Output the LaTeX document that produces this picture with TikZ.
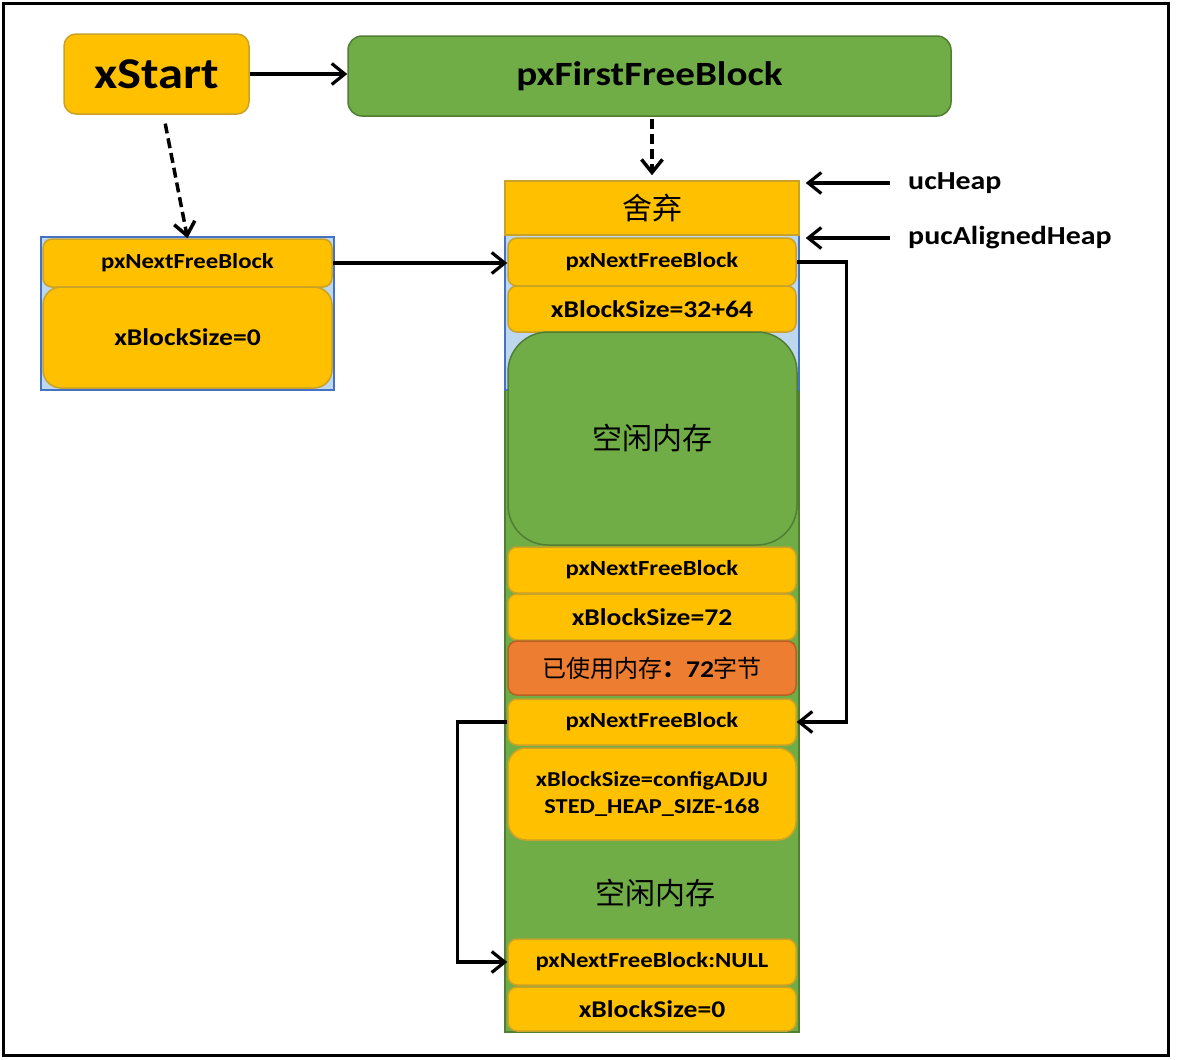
\documentclass[tikz,border=0pt]{standalone}
\usepackage{fontspec}
\setmainfont{Carlito}[FakeStretch=1.15]
\newfontfamily\cjk{Noto Sans CJK SC}
\usetikzlibrary{arrows.meta,calc}
\definecolor{gold}{HTML}{FFC000}
\definecolor{goldline}{HTML}{C9A227}
\definecolor{grn}{HTML}{70AD47}
\definecolor{grnline}{HTML}{507E32}
\definecolor{orng}{HTML}{ED7D31}
\definecolor{orngline}{HTML}{B85F24}
\definecolor{lblue}{HTML}{BDD7EE}
\definecolor{bline}{HTML}{4472C4}
\newcommand{\fs}[1]{\fontsize{#1}{#1}\selectfont}
\tikzset{
  cell/.style={draw=goldline, fill=gold, line width=1.5pt, rounded corners=9pt,
    minimum width=288pt, inner sep=0pt, align=center, font=\fs{21.5}\bfseries},
  szcell/.style={cell, font=\fs{24}\bfseries},
  arr/.style={line width=3.2pt, -{Straight Barb[length=13pt,width=21pt]}},
  dsh/.style={arr, line width=3.5pt, dash pattern=on 10pt off 5pt},
  lab/.style={anchor=west, inner sep=0pt, font=\fs{26}\bfseries},
  cjkfont/.style={font=\cjk\fs{30}},
}
\begin{document}
\begin{tikzpicture}[x=1pt,y=-1pt]
\useasboundingbox (0,0) rectangle (1178,1060);
\fill[white] (0,0) rectangle (1178,1060);
\draw[line width=3pt] (3,3) rectangle (1168,1055);

% top nodes
\node[draw=goldline, fill=gold, line width=1.5pt, rounded corners=12pt,
  minimum width=185pt, minimum height=80pt, inner sep=0pt,
  font=\fs{44}\bfseries] (xs) at (156.5,74) {xStart};
\node[draw=grnline, fill=grn, line width=1.5pt, rounded corners=14pt,
  minimum width=603pt, minimum height=80pt, inner sep=0pt,
  font=\fs{34}\bfseries] (pf) at (649.5,76) {pxFirstFreeBlock};

% left block
\draw[fill=lblue, draw=bline, line width=1.5pt] (41,237) rectangle (334,390);
\node[cell, minimum width=289pt, minimum height=48pt] (l1) at (187.5,263) {pxNextFreeBlock};
\node[szcell, minimum width=289pt, minimum height=101pt, rounded corners=18pt] (l2) at (187.5,337.5) {xBlockSize=0};

% right column backgrounds
\draw[fill=grn, draw=grnline, line width=1.5pt] (505,390) rectangle (799,1032);
\draw[fill=lblue, draw=bline, line width=1.5pt] (505,235) rectangle (799,390);
\node[draw=goldline, fill=gold, line width=1.5pt, minimum width=294pt, minimum height=54pt,
  inner sep=0pt, cjkfont] (qi) at (652,208) {舍弃};

\node[cell, minimum height=48pt] (r1) at (652,262) {pxNextFreeBlock};
\node[szcell, minimum height=46pt] (r2) at (652,309) {xBlockSize=32+64};
\node[draw=grnline, fill=grn, line width=1.5pt, rounded corners=40pt, minimum width=289pt,
  minimum height=213pt, inner sep=0pt, cjkfont] (r3) at (652.5,438.5) {空闲内存};
\node[cell, minimum height=46pt] (r4) at (652,570) {pxNextFreeBlock};
\node[szcell, minimum height=46pt] (r5) at (652,617) {xBlockSize=72};
\node[cell, fill=orng, draw=orngline, minimum height=54pt] (r6) at (652,668)
  {{\cjk\mdseries\fs{24}已使用内存}{\cjk\fs{24}：}{\fs{24}72}{\cjk\mdseries\fs{24}字节}};
\node[cell, minimum height=46pt] (r7) at (652,722) {pxNextFreeBlock};
\node[cell, font=\fs{21.2}\bfseries, minimum height=92pt, rounded corners=18pt] (r8) at (652,794)
  {xBlockSize=configADJU\\[6pt]STED\_HEAP\_SIZE-168};
\node[inner sep=0pt, cjkfont] (r8b) at (655,893) {空闲内存};
\node[cell, minimum height=46pt] (r9) at (652,962) {pxNextFreeBlock:NULL};
\node[szcell, minimum height=44pt] (r10) at (652,1009) {xBlockSize=0};

% labels
\node[lab] (uc) at (908,183) {ucHeap};
\node[lab] (pa) at (908,238) {pucAlignedHeap};

% connectors
\draw[arr] (xs.east) -- (xs.east -| pf.west);
\draw[dsh, shorten <=2pt, shorten >=5pt] (qi.north |- pf.south) -- (qi.north);
\draw[dsh, shorten <=9pt] ([xshift=7pt]xs.south) -- (l1.north);
\draw[arr] (l1.east) -- (l1.east -| r1.west);
\draw[arr, shorten <=18pt, shorten >=6pt] (uc.west) -- (uc.west -| qi.east);
\draw[arr, shorten <=18pt, shorten >=6pt] (pa.west) -- (pa.west -| qi.east);
\draw[arr] (r1.east) -- ++(50,0) |- (r7.east);
\draw[arr] (r7.west) -- ++(-50,0) |- (r9.west);
\end{tikzpicture}
\end{document}
